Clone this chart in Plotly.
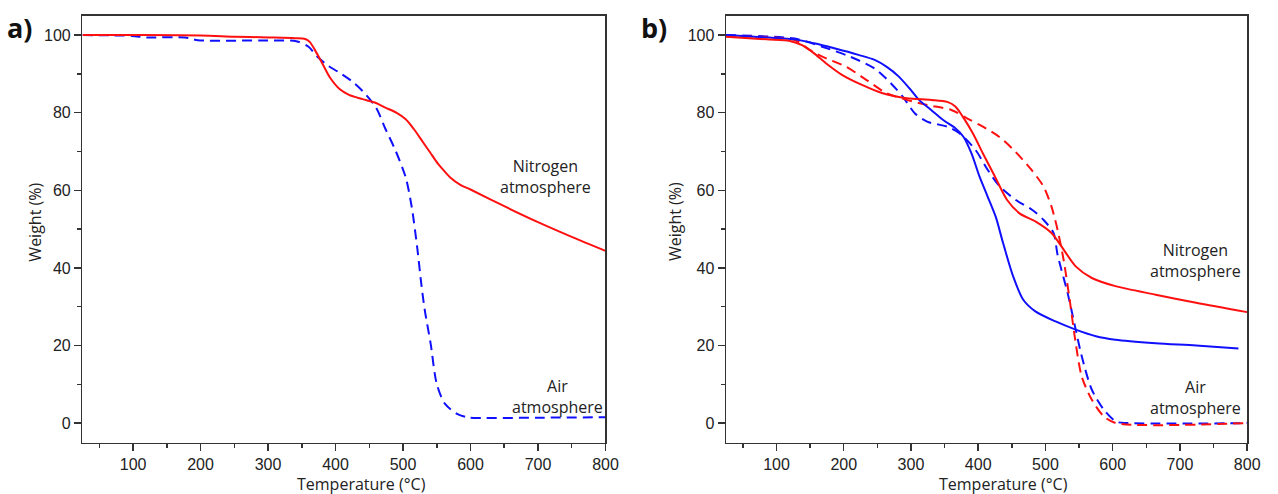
import plotly.graph_objects as go

# ---------------- data ----------------
# Panel a
a_n2_T = [25, 100, 200, 250, 300, 340, 355, 362, 370, 381, 392, 406, 420, 440, 460, 474, 490, 504, 516, 528, 540, 552, 560, 570, 585, 600, 650, 700, 750, 800]
a_n2_W = [100, 100, 99.9, 99.6, 99.4, 99.2, 99.0, 98.2, 96, 92.5, 89, 86.1, 84.6, 83.5, 82.5, 81.3, 80, 78.3, 75.8, 72.8, 69.8, 66.8, 65.2, 63.3, 61.4, 60.2, 55.9, 51.8, 48.0, 44.4]

a_air_T = [25, 98, 120, 177, 196, 300, 342, 360, 372, 390, 406, 425, 440, 460, 474, 489, 504, 513, 521, 527, 532, 541, 550, 562, 580, 598, 620, 700, 800]
a_air_W = [100, 99.8, 99.4, 99.4, 98.7, 98.6, 98.4, 97, 94.6, 92, 90.3, 88, 85.6, 81.3, 75.8, 70.2, 63.3, 55.6, 45.3, 36, 29.4, 20.4, 10.1, 5.0, 2.4, 1.4, 1.3, 1.4, 1.5]

# Panel b
b_red_n2_T = [25, 85, 120, 138, 156, 174, 198, 228, 258, 294, 330, 354, 366, 377, 392, 407, 425, 443, 462, 485, 509, 524, 545, 569, 604, 664, 724, 800]
b_red_n2_W = [99.6, 98.9, 98.5, 97.4, 95.3, 92.7, 89.7, 87.1, 85, 83.7, 83.3, 82.8, 81.6, 79, 74.7, 69.5, 63.5, 57.5, 54, 52, 49, 45.5, 40.4, 37.4, 35.3, 33.1, 31, 28.6]

b_blue_n2_T = [25, 67, 127, 156, 186, 222, 246, 264, 282, 300, 312, 330, 348, 366, 378, 390, 402, 414, 426, 437, 452, 467, 485, 515, 545, 575, 604, 664, 724, 787]
b_blue_n2_W = [100, 99.6, 98.9, 97.9, 96.6, 94.9, 93.6, 91.8, 89.3, 85.8, 83.3, 80.7, 78.1, 76, 73.8, 69.5, 63.5, 58.4, 53.2, 46.4, 37.8, 31.8, 28.8, 26.2, 24.1, 22.4, 21.5, 20.6, 20, 19.2]

b_red_air_T = [25, 127, 150, 174, 204, 234, 264, 294, 324, 360, 384, 407, 431, 455, 479, 497, 509, 518, 527, 536, 545, 554, 569, 587, 605, 800]
b_red_air_W = [99.7, 98.7, 96.1, 94, 91.8, 88.4, 85, 83.3, 82, 80.7, 78.5, 76.4, 73.8, 70, 65.3, 61, 55.8, 49.8, 42.1, 31.8, 20.6, 12, 6, 1.7, 0, 0]

b_blue_air_T = [25, 127, 168, 210, 246, 270, 288, 306, 324, 354, 372, 396, 414, 432, 456, 480, 497, 512, 518, 533, 545, 554, 569, 587, 605, 622, 800]
b_blue_air_W = [100, 99.1, 97, 94.4, 91.4, 87.6, 84.1, 79.8, 77.7, 76.4, 74.7, 70.4, 65.3, 61, 57.5, 55, 52.4, 49, 43.4, 33.5, 24.1, 17.2, 8.6, 3.4, 0.4, 0, 0]

x_ticks = [100, 200, 300, 400, 500, 600, 700, 800]
y_ticks = [0, 20, 40, 60, 80, 100]

RED = "#ff1010"
BLUE = "#1010ff"
DASH = "10px,6px"

W, H = 1278, 494
fig = go.Figure()

def add(T, Wt, color, dash, xa, ya):
    fig.add_trace(go.Scatter(x=T, y=Wt, mode="lines", xaxis=xa, yaxis=ya,
                             line=dict(color=color, width=2, dash=dash, shape="spline", smoothing=0.8),
                             showlegend=False, hoverinfo="skip"))

add(a_air_T, a_air_W, BLUE, DASH, "x", "y")
add(a_n2_T, a_n2_W, RED, "solid", "x", "y")
add(b_blue_air_T, b_blue_air_W, BLUE, DASH, "x2", "y2")
add(b_red_air_T, b_red_air_W, RED, DASH, "x2", "y2")
add(b_blue_n2_T, b_blue_n2_W, BLUE, "solid", "x2", "y2")
add(b_red_n2_T, b_red_n2_W, RED, "solid", "x2", "y2")

tickfont = dict(family="Liberation Sans, Arial", size=16, color="#222222")
ax_common = dict(showline=True, linecolor="#333333", linewidth=1.5, mirror=True,
                 ticks="outside", ticklen=7, tickwidth=1.5, tickcolor="#333333",
                 showgrid=False, zeroline=False, tickfont=tickfont)

def px(x):
    return x / W

def py(y):
    return 1 - y / H

ydom = [py(442.5), py(15.7)]
xdom_a = [px(83.3), px(611.7)]
xdom_b = [px(733.5), px(1260)]

xminor = dict(ticks="outside", ticklen=4, tickwidth=1.5, tickcolor="#333333", dtick=50, showgrid=False)
yminor = dict(ticks="outside", ticklen=4, tickwidth=1.5, tickcolor="#333333", dtick=10, showgrid=False)

fig.update_layout(
    width=W, height=H,
    margin=dict(l=0, r=0, t=0, b=0),
    paper_bgcolor="white", plot_bgcolor="white",
    xaxis=dict(domain=xdom_a, range=[25, 800], tickvals=x_ticks, anchor="y", minor=xminor, **ax_common),
    yaxis=dict(domain=ydom, range=[-5, 105], tickvals=y_ticks, anchor="x", minor=yminor, **ax_common),
    xaxis2=dict(domain=xdom_b, range=[25, 800], tickvals=x_ticks, anchor="y2", minor=xminor, **ax_common),
    yaxis2=dict(domain=ydom, range=[-5, 105], tickvals=y_ticks, anchor="x2", minor=yminor, **ax_common),
)

lab_font = dict(family="Open Sans", size=16, color="#222222")
ann = []
def A(x, y, text, **kw):
    d = dict(x=px(x), y=py(y), xref="paper", yref="paper", text=text, showarrow=False,
             font=kw.pop("font", lab_font), xanchor="center", yanchor="middle")
    d.update(kw)
    ann.append(d)

# axis titles
A(365, 484, "Temperature (°C)")
A(1014, 484, "Temperature (°C)")
A(35, 222, "Weight (%)", textangle=-90)
A(682, 222, "Weight (%)", textangle=-90)
# panel labels
A(20, 28, "<b>a)</b>", font=dict(family="Open Sans", size=27, color="#111111"))
A(661, 28, "<b>b)</b>", font=dict(family="Open Sans", size=27, color="#111111"))
# curve labels
A(551, 176, "Nitrogen<br>atmosphere", font=lab_font)
A(563, 396, "Air<br>atmosphere", font=lab_font)
A(1208, 260, "Nitrogen<br>atmosphere", font=lab_font)
A(1208, 397, "Air<br>atmosphere", font=lab_font)

fig.update_layout(annotations=ann)
fig.write_html(
    "out.html",
    config={"displayModeBar": False, "staticPlot": True},
    post_script=(
        "document.body.style.margin='0';"
        "document.body.style.overflow='hidden';"
        "document.documentElement.style.overflow='hidden';"
    ),
)
